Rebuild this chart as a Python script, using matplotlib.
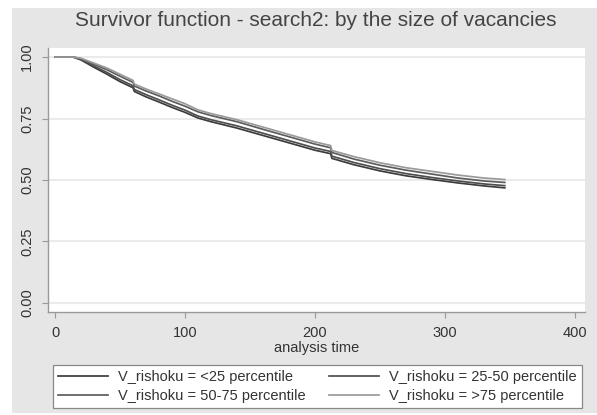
import numpy as np
import matplotlib
matplotlib.use("Agg")
import matplotlib.pyplot as plt
from matplotlib.patches import Rectangle

# analysis time (days) and survivor estimates
times = [0, 14, 20, 30, 40, 50, 60, 61, 70, 80, 90, 100, 110, 120, 140, 160,
         180, 200, 212, 213, 230, 250, 270, 290, 310, 330, 346]

surv_lt25 = [1.0, 1.0, 0.988, 0.958, 0.930, 0.900, 0.875, 0.860, 0.838, 0.817,
             0.795, 0.775, 0.752, 0.737, 0.711, 0.681, 0.651, 0.621, 0.607,
             0.588, 0.562, 0.537, 0.517, 0.502, 0.488, 0.476, 0.468]
surv_25_50 = [1.0, 1.0, 0.990, 0.963, 0.937, 0.908, 0.883, 0.868, 0.847, 0.826,
              0.804, 0.784, 0.760, 0.745, 0.720, 0.690, 0.660, 0.630, 0.616,
              0.597, 0.571, 0.546, 0.526, 0.510, 0.496, 0.484, 0.477]
surv_50_75 = [1.0, 1.0, 0.992, 0.970, 0.948, 0.922, 0.897, 0.882, 0.862, 0.842,
              0.820, 0.800, 0.777, 0.762, 0.737, 0.706, 0.676, 0.646, 0.631,
              0.612, 0.585, 0.560, 0.540, 0.524, 0.508, 0.496, 0.490]
surv_gt75 = [1.0, 1.0, 0.995, 0.975, 0.955, 0.930, 0.905, 0.890, 0.870, 0.850,
             0.830, 0.810, 0.785, 0.770, 0.745, 0.715, 0.685, 0.655, 0.640,
             0.620, 0.595, 0.570, 0.550, 0.535, 0.520, 0.508, 0.502]

labels = ["V_rishoku = <25 percentile", "V_rishoku = 25-50 percentile",
          "V_rishoku = 50-75 percentile", "V_rishoku = >75 percentile"]
colors = ["#3c3c3c", "#4e4e4e", "#5c5c5c", "#9a9a9a"]

x_ticks = [0, 100, 200, 300, 400]
y_ticks = [0.0, 0.25, 0.5, 0.75, 1.0]
y_ticklabels = ["0.00", "0.25", "0.50", "0.75", "1.00"]

plt.rcParams["font.family"] = ["Liberation Sans", "DejaVu Sans"]

W, H = 597, 415
fig = plt.figure(figsize=(W / 100, H / 100), dpi=100)
fig.patch.set_facecolor("white")

# grey graph region (Stata style)
fig.add_artist(Rectangle((12 / W, 1 - 413 / H), (597 - 12) / W, (413 - 8) / H,
                         transform=fig.transFigure, facecolor="#e6e6e6",
                         edgecolor="none", zorder=0))

ax = fig.add_axes([48 / W, 1 - 312 / H, (585 - 48) / W, (312 - 48) / H])
ax.set_facecolor("white")

series = [surv_lt25, surv_25_50, surv_50_75, surv_gt75]
handles = []
for s, lab, c in zip(series, labels, colors):
    h, = ax.plot(times, s, color=c, lw=1.25, label=lab)
    handles.append(h)

ax.set_xlim(-5.4, 407.7)
ax.set_ylim(-0.0366, 1.0366)
ax.set_xticks(x_ticks)
ax.set_yticks(y_ticks)
ax.set_yticklabels(y_ticklabels, rotation=90, va="center")
ax.tick_params(axis="both", direction="out", length=4, width=0.8,
               color="#999999", labelsize=10.5, labelcolor="#333333", pad=6)
ax.grid(axis="y", color="#ebebeb", lw=1.5)
ax.set_axisbelow(True)

for side in ["top", "right"]:
    ax.spines[side].set_visible(False)
for side in ["left", "bottom"]:
    ax.spines[side].set_color("#999999")
    ax.spines[side].set_linewidth(1.0)

ax.set_xlabel("analysis time", fontsize=10.5, color="#333333", labelpad=1)
fig.text(316 / W, 1 - 20 / H,
         "Survivor function - search2: by the size of vacancies",
         ha="center", va="center", fontsize=15, color="#444444")

# legend filled row by row like Stata: reorder for matplotlib's column filling
order = [0, 2, 1, 3]
leg = ax.legend([handles[i] for i in order], [labels[i] for i in order],
                ncol=2, loc="lower left", mode="expand",
                bbox_to_anchor=(53 / W, 1 - 408 / H, (582 - 53) / W, 48 / H),
                bbox_transform=fig.transFigure, borderaxespad=0,
                fontsize=10.5, handlelength=3.4, handletextpad=0.7,
                labelspacing=0.35, borderpad=0.35, fancybox=False,
                framealpha=1, edgecolor="#888888")
leg.get_frame().set_linewidth(0.9)
for t in leg.get_texts():
    t.set_color("#333333")

fig.savefig("out.png", dpi=100)
